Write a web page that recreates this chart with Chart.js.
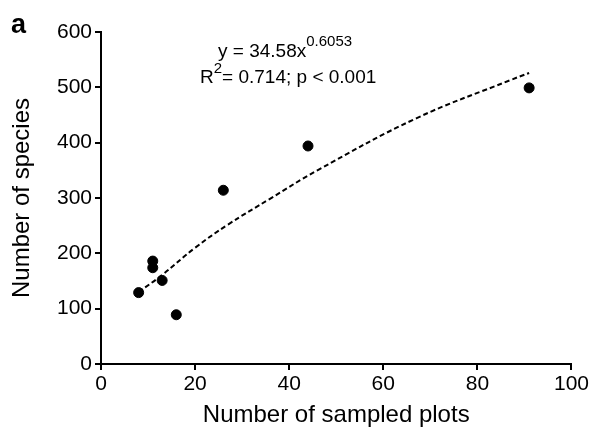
<!DOCTYPE html>
<html>
<head>
<meta charset="utf-8">
<script src="https://cdn.jsdelivr.net/npm/chart.js@4/dist/chart.umd.min.js"></script>
<style>
  html, body { margin: 0; padding: 0; background: #fff; }
  #wrap { width: 591px; height: 431px; }
</style>
</head>
<body>
<div id="wrap"><canvas id="chart" width="591" height="431"></canvas></div>
<script>
// observed sites (plots, species)
const plots   = [8, 11, 11, 13, 16, 26, 44, 91];
const species = [129, 186, 174, 151, 89, 314, 394, 499];

// fitted power curve
const fitX = [8, 13, 20, 27, 36, 46, 67, 87, 91];
const fitY = [130, 161, 210, 252, 299, 350, 444, 513, 526];

const xTicks = [0, 20, 40, 60, 80, 100];
const yTicks = [0, 100, 200, 300, 400, 500, 600];

const FONT = 'Liberation Sans, Arial, sans-serif';

// equation text + panel letter
const labelsPlugin = {
    id: 'labels',
    afterDraw(chart) {
        const ctx = chart.ctx;
        ctx.save();
        ctx.fillStyle = '#000';
        ctx.textBaseline = 'alphabetic';
        ctx.textAlign = 'left';

        ctx.font = 'bold 27px ' + FONT;
        ctx.fillText('a', 11, 33);

        ctx.font = '19px ' + FONT;
        let s = 'y = 34.58x';
        ctx.fillText(s, 218, 57);
        let w = ctx.measureText(s).width;
        ctx.font = '15px ' + FONT;
        ctx.fillText('0.6053', 218 + w, 46);

        ctx.font = '19px ' + FONT;
        ctx.fillText('R', 200, 83);
        w = ctx.measureText('R').width;
        ctx.font = '15px ' + FONT;
        ctx.fillText('2', 200 + w, 73);
        const w2 = ctx.measureText('2').width;
        ctx.font = '19px ' + FONT;
        ctx.fillText('= 0.714; p < 0.001', 200 + w + w2, 83);
        ctx.restore();
    }
};

new Chart(document.getElementById('chart'), {
    type: 'scatter',
    data: {
        datasets: [
            {
                label: 'fit',
                type: 'line',
                data: fitX.map((x, i) => ({ x: x, y: fitY[i] })),
                borderColor: '#000',
                borderWidth: 2,
                borderDash: [5, 3],
                pointRadius: 0,
                tension: 0.4,
                fill: false
            },
            {
                label: 'sites',
                data: plots.map((x, i) => ({ x: x, y: species[i] })),
                backgroundColor: '#000',
                borderColor: '#000',
                pointRadius: 5,
                pointHoverRadius: 5
            }
        ]
    },
    options: {
        responsive: false,
        animation: false,
        events: [],
        layout: { padding: { top: 32, right: 17, left: 0, bottom: 0 } },
        plugins: {
            legend: { display: false },
            tooltip: { enabled: false }
        },
        scales: {
            x: {
                type: 'linear',
                min: 0,
                max: 100,
                afterFit(scale) { scale.height = 67; },
                afterBuildTicks(scale) { scale.ticks = xTicks.map(v => ({ value: v })); },
                grid: { drawOnChartArea: false, drawTicks: true, tickLength: 6, color: '#000', lineWidth: 2 },
                border: { color: '#000', width: 2 },
                ticks: { color: '#000', font: { family: FONT, size: 21 }, padding: 2, maxRotation: 0 },
                title: {
                    display: true,
                    text: 'Number of sampled plots',
                    color: '#000',
                    font: { family: FONT, size: 24 },
                    padding: { top: 0, bottom: 1 }
                }
            },
            y: {
                type: 'linear',
                min: 0,
                max: 600,
                afterFit(scale) { scale.width = 101; },
                afterBuildTicks(scale) { scale.ticks = yTicks.map(v => ({ value: v })); },
                grid: { drawOnChartArea: false, drawTicks: true, tickLength: 6, color: '#000', lineWidth: 2 },
                border: { color: '#000', width: 2 },
                ticks: { color: '#000', font: { family: FONT, size: 21 }, padding: 3 },
                title: {
                    display: true,
                    text: 'Number of species',
                    color: '#000',
                    font: { family: FONT, size: 24 },
                    padding: { top: 8, bottom: 0 }
                }
            }
        }
    },
    plugins: [labelsPlugin]
});
</script>
</body>
</html>
